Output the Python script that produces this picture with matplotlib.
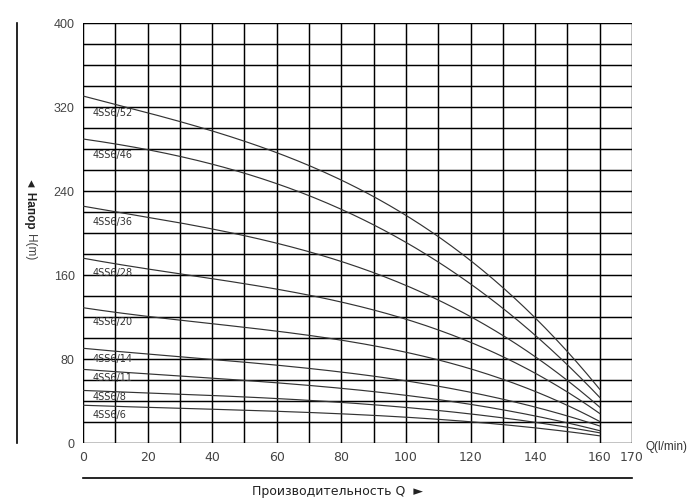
import numpy as np
import matplotlib
matplotlib.use("Agg")
import matplotlib.pyplot as plt
from matplotlib.lines import Line2D

# Data
q = [0, 20, 40, 60, 80, 100, 120, 140, 150, 160]
models = ["4SS6/52", "4SS6/46", "4SS6/36", "4SS6/28", "4SS6/20",
          "4SS6/14", "4SS6/11", "4SS6/8", "4SS6/6"]
h_52 = [330, 315, 298, 276, 250, 216, 174, 120, 88, 50]
h_46 = [290, 279, 265, 246, 224, 192, 152, 100, 74, 45]
h_36 = [226, 215, 203, 189, 174, 154, 117, 81, 60, 35]
h_28 = [176, 166, 156, 147, 134, 118, 96, 66, 49, 28]
h_20 = [128, 122, 114, 106, 97, 86, 71, 51, 35, 20]
h_14 = [90, 85, 80, 74, 67, 59, 49, 34, 26, 16]
h_11 = [70, 66, 62, 57, 52, 45, 38, 25, 19, 12]
h_8 = [50, 48, 45, 42, 39, 34, 28, 19, 15, 10]
h_6 = [36, 34, 32, 30, 28, 25, 20, 14, 11, 7]
label_h = [314, 274, 210, 162, 115, 80, 62, 44, 27]

x_ticks = [0, 20, 40, 60, 80, 100, 120, 140, 160, 170]
y_ticks = [0, 80, 160, 240, 320, 400]

series = [h_52, h_46, h_36, h_28, h_20, h_14, h_11, h_8, h_6]

fig = plt.figure(figsize=(7, 5), dpi=100)
ax = fig.add_axes([83/700, 1-443/500, (632-83)/700, (443-23)/500])
ax.set_xlim(0, 170)
ax.set_ylim(0, 400)

# grid
for xv in np.arange(0, 171, 10):
    ax.axvline(xv, color="black", lw=1.05, zorder=1)
for yv in np.arange(0, 401, 20):
    ax.axhline(yv, color="black", lw=1.05, zorder=1)

for name, h, lh in zip(models, series, label_h):
    qq = np.array(q, dtype=float)
    hh = np.array(h, dtype=float)
    coef = np.polyfit(qq, hh, 3)
    qs = np.linspace(0, 160, 200)
    hs = np.polyval(coef, qs)
    ax.plot(qs, hs, color="#333333", lw=0.85, zorder=3)
    ax.text(3, lh, name, fontsize=7, color="#333333", va="center", ha="left", zorder=4)

for s in ax.spines.values():
    s.set_visible(False)
ax.set_xticks(x_ticks)
ax.set_yticks(y_ticks)
ax.tick_params(length=0, labelsize=9, colors="#444444", pad=6)
for lab in ax.get_xticklabels():
    lab.set_family(["Liberation Sans Narrow", "DejaVu Sans"])
for lab in ax.get_yticklabels():
    lab.set_family(["Liberation Sans", "DejaVu Sans"])

fig.text(645/700, 1-447/500, "Q(l/min)", fontsize=8.5, color="#333333",
         family=["Liberation Sans", "DejaVu Sans"], va="center", ha="left")

# left vertical line and y label
fig.add_artist(Line2D([17/700, 17/700], [1-23/500, 1-443/500], color="black", lw=1.2))
fig.text(30/700, 1-203/500, "◄ Напор", rotation=270, fontsize=8.5, fontweight="bold",
         color="#222222", va="center", ha="center", family=["Liberation Sans", "DejaVu Sans"])
fig.text(30/700, 1-247/500, "H(m)", rotation=270, fontsize=8.5,
         color="#444444", va="center", ha="center", family=["Liberation Sans", "DejaVu Sans"])

# bottom line and x label
fig.add_artist(Line2D([83/700, 632/700], [1-478/500, 1-478/500], color="black", lw=1.2))
fig.text(337/700, 1-491/500, "Производительность Q  ►", fontsize=9, color="#222222",
         va="center", ha="center", family=["Liberation Sans Narrow", "DejaVu Sans"])

fig.savefig("out.png", dpi=100)
